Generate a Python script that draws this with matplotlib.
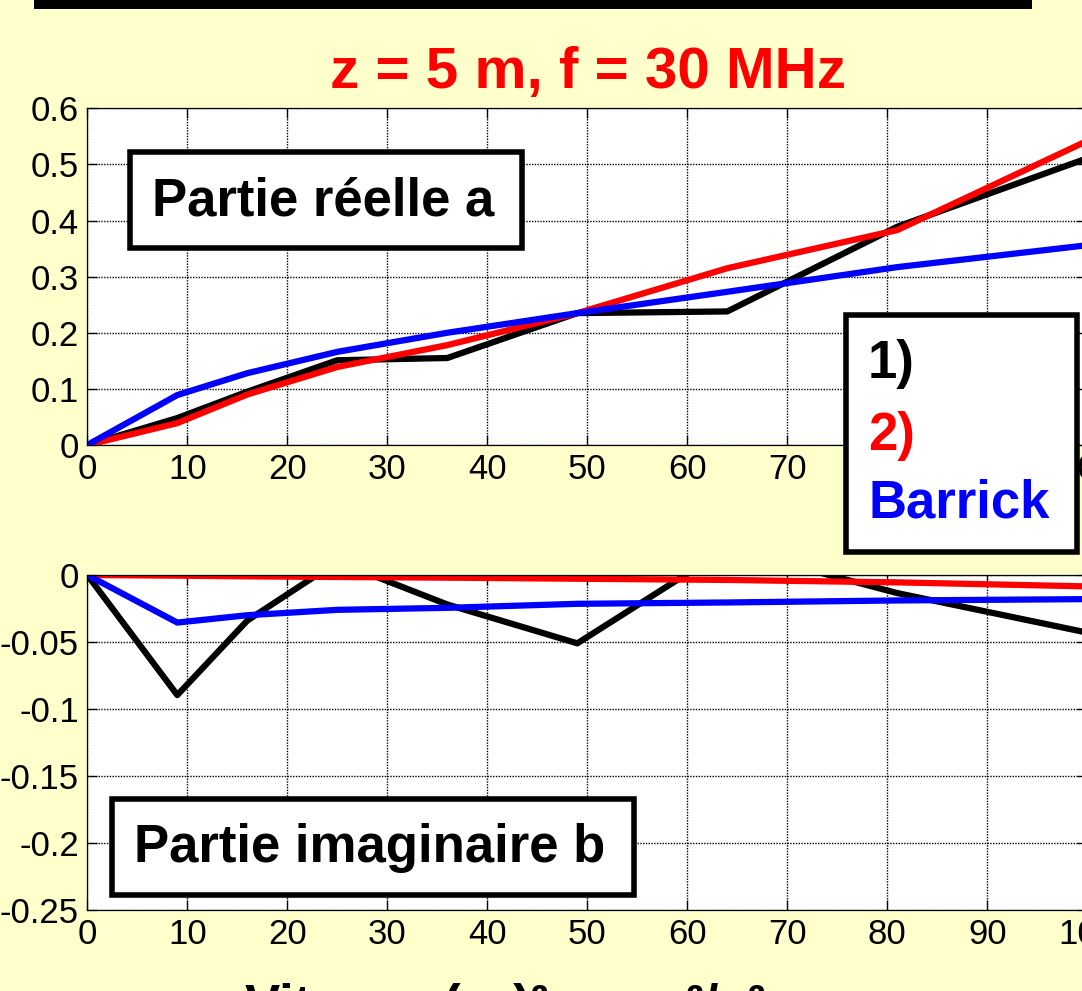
import matplotlib
matplotlib.use('Agg')
import matplotlib.pyplot as plt
from matplotlib.patches import Rectangle

plt.rcParams['font.family'] = ['Liberation Sans', 'DejaVu Sans']
plt.rcParams['axes.unicode_minus'] = False

# Données
vitesse2 = [0, 9, 16, 25, 36, 49, 64, 81, 100]

reel_1 = [0, 0.048, 0.095, 0.151, 0.155, 0.235, 0.238, 0.389, 0.511]
reel_2 = [0, 0.039, 0.090, 0.139, 0.178, 0.235, 0.315, 0.383, 0.542]
reel_barrick = [0, 0.089, 0.128, 0.166, 0.200, 0.235, 0.273, 0.317, 0.356]

imag_1 = [0, -0.0896, -0.034, 0.010, -0.022, -0.051, 0.020, -0.0135, -0.043]
imag_2 = [0, -0.0005, -0.001, -0.0015, -0.002, -0.0028, -0.0037, -0.0055, -0.0085]
imag_barrick = [0, -0.0355, -0.030, -0.026, -0.0245, -0.0215, -0.0205, -0.019, -0.018]

xticks = [0, 10, 20, 30, 40, 50, 60, 70, 80, 90, 100]
yticks_reel = [0, 0.1, 0.2, 0.3, 0.4, 0.5, 0.6]
ylabels_reel = ['0', '0.1', '0.2', '0.3', '0.4', '0.5', '0.6']
yticks_imag = [-0.25, -0.2, -0.15, -0.1, -0.05, 0]
ylabels_imag = ['-0.25', '-0.2', '-0.15', '-0.1', '-0.05', '0']

fond = '#FFFFCC'
W, H = 1082, 991


def style_axes(ax):
    ax.set_facecolor('white')
    ax.grid(True, color='black', linestyle=(0, (1, 1)), linewidth=1.0)
    ax.tick_params(direction='in', length=7, width=0.9, top=True, right=True,
                   labelsize=25, pad=6, colors='black')
    for s in ax.spines.values():
        s.set_linewidth(0.9)
        s.set_color('black')


def boite(fig, x0, y0, x1, y1):
    # coordonnées en pixels (origine en haut à gauche)
    r = Rectangle((x0 / W, 1 - y1 / H), (x1 - x0) / W, (y1 - y0) / H,
                  transform=fig.transFigure, facecolor='white',
                  edgecolor='black', linewidth=4, zorder=5)
    fig.patches.append(r)


fig = plt.figure(figsize=(W / 100, H / 100), dpi=100, facecolor=fond)

# barre noire en haut
fig.patches.append(Rectangle((34 / W, 1 - 9 / H), (1032 - 34) / W, 9 / H + 0.01,
                             transform=fig.transFigure, facecolor='black',
                             edgecolor='none', zorder=1))

fig.text(588 / W, 1 - 88 / H, 'z = 5 m, f = 30 MHz', color='red',
         fontsize=42, fontweight='bold', ha='center', va='baseline')

# Partie réelle
ax1 = fig.add_axes([87.3 / W, 1 - 445 / H, 1000 / W, 336.7 / H])
ax1.plot(vitesse2, reel_1, color='black', lw=4.5)
ax1.plot(vitesse2, reel_2, color='red', lw=4.5)
ax1.plot(vitesse2, reel_barrick, color='blue', lw=4.5)
ax1.set_xlim(0, 100)
ax1.set_ylim(0, 0.6)
ax1.set_xticks(xticks)
ax1.set_yticks(yticks_reel)
ax1.set_yticklabels(ylabels_reel)
style_axes(ax1)

# Partie imaginaire
ax2 = fig.add_axes([87.3 / W, 1 - 910 / H, 1000 / W, 335 / H])
ax2.plot(vitesse2, imag_1, color='black', lw=4.5)
ax2.plot(vitesse2, imag_2, color='red', lw=4.5)
ax2.plot(vitesse2, imag_barrick, color='blue', lw=4.5)
ax2.set_xlim(0, 100)
ax2.set_ylim(-0.25, 0)
ax2.set_xticks(xticks)
ax2.set_yticks(yticks_imag)
ax2.set_yticklabels(ylabels_imag)
style_axes(ax2)

# Boîtes de texte
boite(fig, 130, 152, 522, 248)
fig.text(152 / W, 1 - 215 / H, 'Partie réelle a', fontsize=38,
         fontweight='bold', va='baseline', zorder=6)

boite(fig, 112, 799, 634, 895)
fig.text(134 / W, 1 - 862 / H, 'Partie imaginaire b', fontsize=38,
         fontweight='bold', va='baseline', zorder=6)

boite(fig, 846, 315, 1077, 552)
fig.text(868 / W, 1 - 378 / H, '1)', color='black', fontsize=38,
         fontweight='bold', va='baseline', zorder=6)
fig.text(868 / W, 1 - 450 / H, '2)', color='red', fontsize=38,
         fontweight='bold', va='baseline', zorder=6)
fig.text(868 / W, 1 - 518 / H, 'Barrick', color='blue', fontsize=38,
         fontweight='bold', va='baseline', zorder=6)

# titre de l'axe x (coupé par le bord)
fig.text(245 / W, 1 - 1022 / H, 'Vitesse (ur)² en m²/s²', fontsize=38,
         fontweight='bold', va='baseline')

fig.savefig('out.png', dpi=100, facecolor=fond)
